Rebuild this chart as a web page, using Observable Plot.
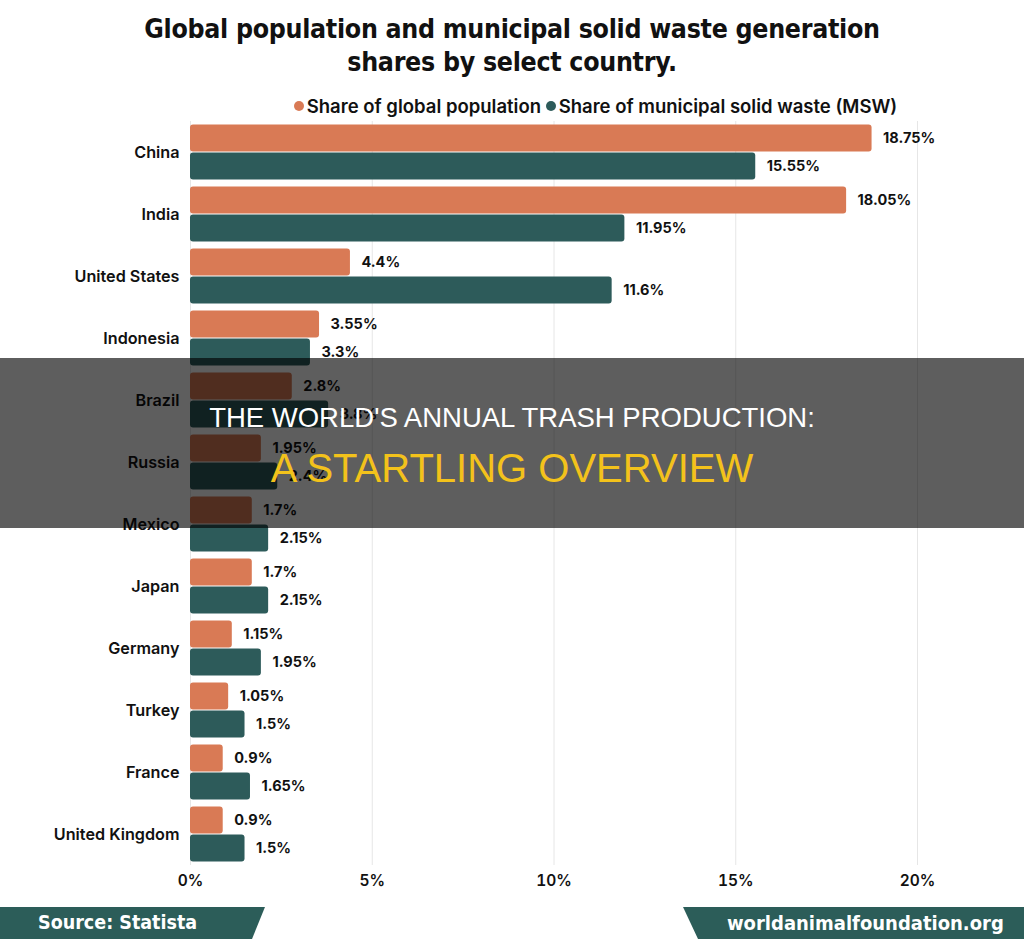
<!DOCTYPE html>
<html>
<head>
<meta charset="utf-8">
<script src="https://cdn.jsdelivr.net/npm/d3@7"></script>
<script src="https://cdn.jsdelivr.net/npm/@observablehq/plot@0.6"></script>
<style>
  html, body { margin: 0; padding: 0; background: #fff; }
  #page { position: relative; width: 1024px; height: 939px; overflow: hidden; background: #fff; font-family: Inter, "Open Sans", sans-serif; }
  #title { position: absolute; top: 12px; left: 0; width: 1024px; text-align: center; font-family: "DejaVu Sans", sans-serif; font-stretch: condensed; font-weight: 700; font-size: 26.5px; line-height: 33px; color: #111; letter-spacing: -0.3px; }
  #legend { position: absolute; top: 95px; left: 0; width: 1024px; text-align: center; font-size: 18.5px; font-weight: 600; color: #111; padding-left: 167px; box-sizing: border-box; white-space: nowrap; }
  #legend span.dot { display: inline-block; width: 10px; height: 10px; border-radius: 50%; margin-right: 3px; vertical-align: 2px; }
  #chart { position: absolute; top: 118px; left: 0; }
  #band { position: absolute; left: 0; top: 358px; width: 1024px; height: 170px; background: rgba(0,0,0,0.63); }
  #band .l1 { position: absolute; top: 45px; width: 100%; text-align: center; color: #fff; font-family: "Liberation Sans", Arial, sans-serif; font-size: 27.5px; line-height: 30px; }
  #band .l2 { position: absolute; top: 87px; width: 100%; text-align: center; color: #F3C21B; font-family: "Liberation Sans", Arial, sans-serif; font-size: 40px; line-height: 46px; }
  #footer { position: absolute; left: 0; top: 907px; }
  .ft { position: absolute; top: 908px; color: #fff; font-family: "DejaVu Sans", sans-serif; font-stretch: condensed; font-weight: 700; font-size: 20px; line-height: 30px; }
</style>
</head>
<body>
<div id="page">
  <div id="title">Global population and municipal solid waste generation<br>shares by select country.</div>
  <div id="legend"></div>
  <div id="chart"></div>
  <div id="band"><div class="l1">THE WORLD'S ANNUAL TRASH PRODUCTION:</div><div class="l2">A STARTLING OVERVIEW</div></div>
  <svg id="footer" width="1024" height="32">
    <polygon points="0,0 265,0 252,32 0,32" fill="#2C5D59"></polygon>
    <polygon points="683,0 1024,0 1024,32 698,32" fill="#2C5D59"></polygon>
  </svg>
  <div class="ft" style="left:38px; font-size:19.5px;">Source: Statista</div>
  <div class="ft" style="left:727px;">worldanimalfoundation.org</div>
</div>
<script>
const countries = ["China","India","United States","Indonesia","Brazil","Russia","Mexico","Japan","Germany","Turkey","France","United Kingdom"];
const population = [18.75,18.05,4.4,3.55,2.8,1.95,1.7,1.7,1.15,1.05,0.9,0.9];
const msw = [15.55,11.95,11.6,3.3,3.8,2.4,2.15,2.15,1.95,1.5,1.65,1.5];
const seriesNames = ["Share of global population","Share of municipal solid waste (MSW)"];
const seriesColors = ["#D97A55","#2D5B5A"];
const xTicks = [0,5,10,15,20];

const rows = [];
countries.forEach((c, i) => {
  rows.push({country: c, series: seriesNames[0], value: population[i]});
  rows.push({country: c, series: seriesNames[1], value: msw[i]});
});

document.getElementById("legend").innerHTML = seriesNames.map((s, i) =>
  `<span class="dot" style="background:${seriesColors[i]}"></span>${s}`).join(" ");

const chart = Plot.plot({
  width: 1024,
  height: 779,
  marginLeft: 190,
  marginRight: 107,
  marginTop: 2.5,
  marginBottom: 32,
  style: {fontFamily: "Inter, 'Open Sans', sans-serif", fontSize: "15px", color: "#111", background: "transparent"},
  x: {domain: [0, 20], ticks: xTicks, tickFormat: d => d + "%", label: null, tickSize: 0, tickPadding: 9},
  fy: {domain: countries, padding: 0, label: null, axis: "left", tickPadding: 11, tickSize: 0},
  y: {domain: seriesNames, paddingInner: 0.035, paddingOuter: 0.09, axis: null},
  color: {domain: seriesNames, range: seriesColors},
  marks: [
    Plot.ruleX(xTicks, {stroke: "#e6e6e6", strokeWidth: 1}),
    Plot.barX(rows, {fy: "country", y: "series", x: "value", fill: "series", rx: 3}),
    Plot.text(rows, {fy: "country", y: "series", x: "value", text: d => d.value + "%", dx: 11, textAnchor: "start", fontWeight: 700, fontSize: 14.5, fill: "#111"})
  ]
});
chart.querySelectorAll('g[aria-label="x-axis tick label"] text, g[aria-label="x-axis"] text').forEach(t => { t.setAttribute("font-weight", "600"); t.setAttribute("font-size", "15.5"); });
chart.querySelectorAll('g[aria-label="fy-axis tick label"] text, g[aria-label="fy-axis"] text').forEach(t => { t.setAttribute("font-weight", "600"); t.setAttribute("font-size", "16.2"); });
document.getElementById("chart").appendChild(chart);
</script>
</body>
</html>
